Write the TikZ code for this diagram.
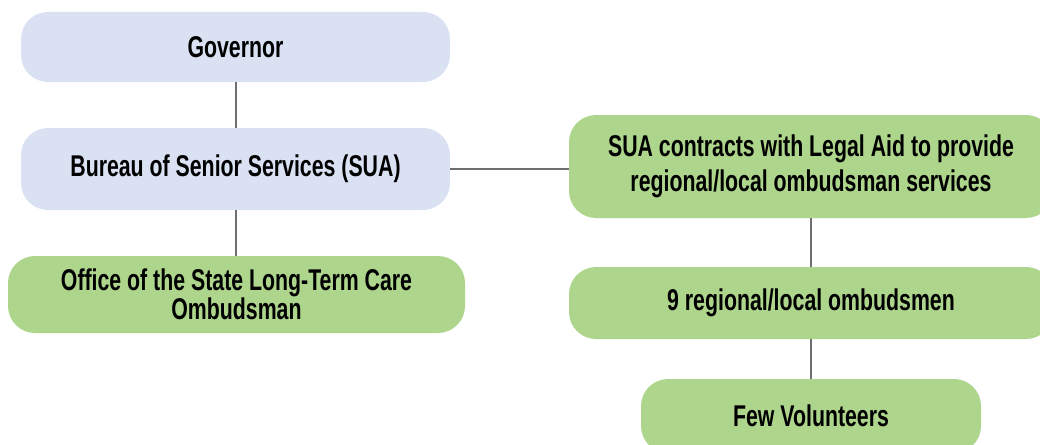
\documentclass[tikz,border=0pt]{standalone}
\usepackage{fontspec}
\newfontfamily\cfont{Liberation Sans}[FakeStretch=0.71]
\definecolor{boxblue}{HTML}{D9E1F2}
\definecolor{boxgreen}{HTML}{AED58C}
\definecolor{linegray}{HTML}{6E6E72}
\begin{document}
\begin{tikzpicture}[x=1pt,y=-1pt,
  box/.style={rounded corners=27pt, inner sep=0pt, align=center,
    font=\cfont\bfseries\fontsize{30}{35}\selectfont, text=black},
  bluebox/.style={box, fill=boxblue},
  greenbox/.style={box, fill=boxgreen},
  conn/.style={draw=linegray, line width=2pt}]
\useasboundingbox (0,0) rectangle (1040,444);
\clip (0,0) rectangle (1040,444);
\node[bluebox, minimum width=429pt, minimum height=70pt] (gov) at (235.5,47) {Governor};
\node[bluebox, minimum width=429pt, minimum height=82pt] (bur) at (235.5,169) {Bureau of Senior Services (SUA)};
\node[greenbox, minimum width=457pt, minimum height=77pt,
  font=\cfont\bfseries\fontsize{30}{28}\selectfont] (off) at (236.5,294.5) {Office of the State Long-Term Care\\Ombudsman};
\node[greenbox, minimum width=484pt, minimum height=103pt,
  font=\cfont\bfseries\fontsize{30}{35}\selectfont] (sua) at (811,166.5) {SUA contracts with Legal Aid to provide\\regional/local ombudsman services};
\node[greenbox, minimum width=484pt, minimum height=72pt] (reg) at (811,303) {9 regional/local ombudsmen};
\node[greenbox, minimum width=340pt, minimum height=74pt] (vol) at (811,416) {Few Volunteers};
\draw[conn] (gov.south) -- (bur.north);
\draw[conn] (bur.south) -- (bur.south |- off.north);
\draw[conn] (bur.east) -- (bur.east -| sua.west);
\draw[conn] (sua.south) -- (reg.north);
\draw[conn] (reg.south) -- (vol.north);
\end{tikzpicture}
\end{document}
